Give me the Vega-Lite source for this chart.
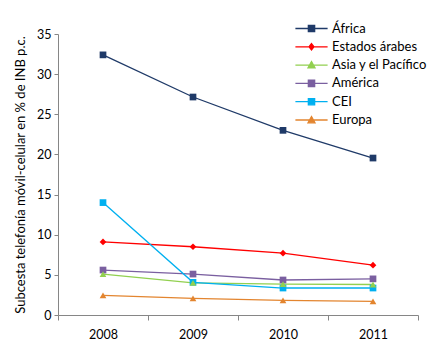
{
  "$schema": "https://vega.github.io/schema/vega-lite/v6.json",
  "width": 360,
  "height": 281,
  "autosize": {"type": "none"},
  "padding": {"left": 58, "top": 34, "right": 15, "bottom": 42},
  "background": "white",
  "config": {
    "view": {"stroke": null},
    "font": "Lato",
    "axis": {"grid": false, "domainColor": "#868686", "tickColor": "#868686", "labelColor": "#000000", "labelFontSize": 12.5, "labelFont": "Lato", "titleFont": "Lato", "titleFontWeight": "normal", "titleFontSize": 13, "titleColor": "#000000"}
  },
  "data": {
    "values": [
      {"year": "2008", "region": "África", "value": 32.4},
      {"year": "2009", "region": "África", "value": 27.15},
      {"year": "2010", "region": "África", "value": 23.0},
      {"year": "2011", "region": "África", "value": 19.55},
      {"year": "2008", "region": "Estados árabes", "value": 9.1},
      {"year": "2009", "region": "Estados árabes", "value": 8.5},
      {"year": "2010", "region": "Estados árabes", "value": 7.7},
      {"year": "2011", "region": "Estados árabes", "value": 6.2},
      {"year": "2008", "region": "Asia y el Pacífico", "value": 5.1},
      {"year": "2009", "region": "Asia y el Pacífico", "value": 4.0},
      {"year": "2010", "region": "Asia y el Pacífico", "value": 3.85},
      {"year": "2011", "region": "Asia y el Pacífico", "value": 3.8},
      {"year": "2008", "region": "América", "value": 5.6},
      {"year": "2009", "region": "América", "value": 5.1},
      {"year": "2010", "region": "América", "value": 4.36},
      {"year": "2011", "region": "América", "value": 4.5},
      {"year": "2008", "region": "CEI", "value": 14.0},
      {"year": "2009", "region": "CEI", "value": 4.07},
      {"year": "2010", "region": "CEI", "value": 3.36},
      {"year": "2011", "region": "CEI", "value": 3.36},
      {"year": "2008", "region": "Europa", "value": 2.45},
      {"year": "2009", "region": "Europa", "value": 2.07},
      {"year": "2010", "region": "Europa", "value": 1.83},
      {"year": "2011", "region": "Europa", "value": 1.7}
    ]
  },
  "encoding": {
    "x": {
      "field": "year", "type": "ordinal", "bandPosition": 0.5,
      "scale": {"type": "band", "paddingInner": 0, "paddingOuter": 0},
      "axis": {"title": null, "labelAngle": 0, "tickBand": "extent", "tickSize": 5, "labelPadding": 8}
    },
    "y": {
      "field": "value", "type": "quantitative",
      "scale": {"domain": [0, 35], "nice": false},
      "axis": {"values": [0, 5, 10, 15, 20, 25, 30, 35], "tickSize": 4, "labelPadding": 3, "title": "Subcesta telefonía móvil-celular en % de INB p.c.", "titlePadding": 9}
    },
    "color": {
      "field": "region", "type": "nominal", "legend": null,
      "scale": {
        "domain": ["África", "Estados árabes", "Asia y el Pacífico", "América", "CEI", "Europa"],
        "range": ["#1F3A68", "#FF0000", "#92D050", "#7A5FA0", "#00B0F0", "#E3852F"]
      }
    }
  },
  "layer": [
    {
      "mark": {"type": "line", "strokeWidth": 1.3},
      "encoding": {
        "color": {
          "field": "region", "type": "nominal",
          "legend": {
            "title": null, "orient": "none", "legendX": 247, "legendY": -12,
            "padding": 0, "symbolSize": 49, "labelFontSize": 13, "labelFont": "Lato", "labelColor": "#000000",
            "labelOffset": 14, "rowPadding": 4.3, "symbolStrokeWidth": 1.3,
            "encode": {
              "symbols": {
                "update": {
                  "shape": {"signal": "datum.value == 'Estados árabes' ? 'M-4.6,0H4.6M0,-0.9L0.7,0L0,0.9L-0.7,0Z' : (datum.value == 'Asia y el Pacífico' || datum.value == 'Europa') ? 'M-4.6,0H4.6M0,-1L1,0.8H-1Z' : 'M-4.6,0H4.6M-0.9,-0.9H0.9V0.9H-0.9Z'"},
                  "fill": {"signal": "scale('color', datum.value)"},
                  "stroke": {"signal": "scale('color', datum.value)"},
                  "fillOpacity": {"value": 1}
                }
              }
            }
          }
        }
      }
    },
    {
      "transform": [{"filter": "datum.region == 'África' || datum.region == 'América' || datum.region == 'CEI'"}],
      "mark": {"type": "point", "filled": true, "opacity": 1, "size": 45, "shape": "square"}
    },
    {
      "transform": [{"filter": "datum.region == 'Estados árabes'"}],
      "mark": {"type": "point", "filled": true, "opacity": 1, "size": 45, "shape": "diamond"}
    },
    {
      "transform": [{"filter": "datum.region == 'Asia y el Pacífico' || datum.region == 'Europa'"}],
      "mark": {"type": "point", "filled": true, "opacity": 1, "size": 45, "shape": "triangle-up"}
    }
  ]
}
